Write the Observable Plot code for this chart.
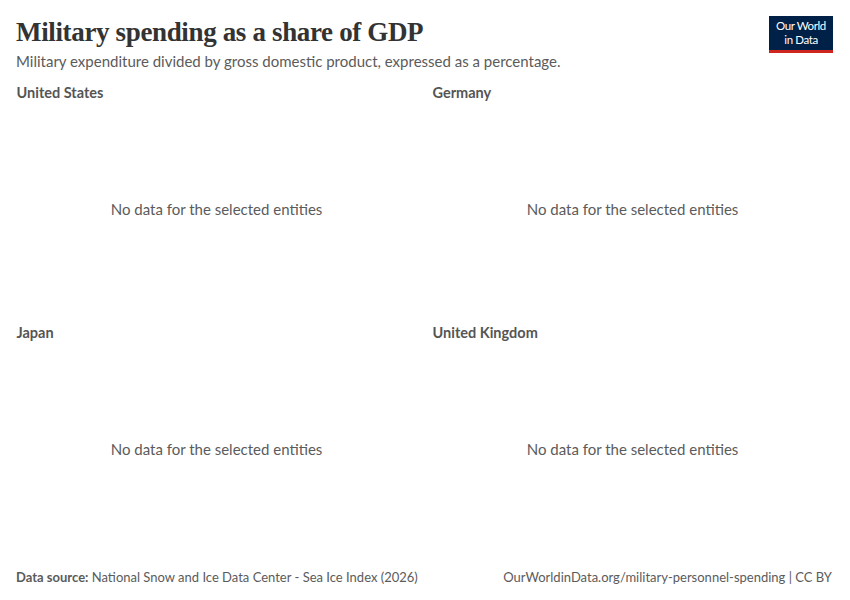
<!DOCTYPE html>
<html>
<head>
<meta charset="utf-8">
<script src="https://cdn.jsdelivr.net/npm/d3@7"></script>
<script src="https://cdn.jsdelivr.net/npm/@observablehq/plot@0.6"></script>
<style>
  html, body { margin: 0; padding: 0; background: #fff; }
  body { width: 850px; height: 600px; position: relative; font-family: Lato, "Noto Sans", sans-serif; overflow: hidden; }
  #title { position: absolute; left: 16px; top: 17px; font-family: "Liberation Serif", "DejaVu Serif", serif; font-weight: 700; font-size: 27px; color: #333; letter-spacing: -0.35px; white-space: nowrap; }
  #subtitle { position: absolute; left: 16px; top: 52px; font-size: 15px; color: #5b5b5b; white-space: nowrap; }
  #logo { position: absolute; left: 769px; top: 16px; width: 64px; height: 34px; background: #002147; border-bottom: 3px solid #ce261e; color: #fff; font-size: 11.5px; line-height: 14px; text-align: center; display: flex; flex-direction: column; justify-content: center; letter-spacing: -0.4px; }
  #chart { position: absolute; left: 0; top: 80px; }
  #source { position: absolute; left: 16px; top: 569px; font-size: 13px; color: #5b5b5b; white-space: nowrap; }
  #source b { font-weight: 700; }
  #url { position: absolute; right: 18px; top: 569px; font-size: 13px; color: #5b5b5b; white-space: nowrap; }
</style>
</head>
<body>
<div id="title">Military spending as a share of GDP</div>
<div id="subtitle">Military expenditure divided by gross domestic product, expressed as a percentage.</div>
<div id="logo"><div>Our World</div><div>in Data</div></div>
<div id="chart"></div>
<div id="source"><b>Data source:</b> National Snow and Ice Data Center - Sea Ice Index (2026)</div>
<div id="url">OurWorldinData.org/military-personnel-spending | CC BY</div>
<script>
const entities = ["United States", "Germany", "Japan", "United Kingdom"];
const columns = [0, 1, 0, 1];
const rows = [0, 0, 1, 1];
const message = "No data for the selected entities";

const panels = entities.map((e, i) => ({entity: e, col: columns[i], row: rows[i], message}));

const chart = Plot.plot({
  width: 850,
  height: 480,
  marginLeft: 16,
  marginRight: 18,
  marginTop: 0,
  marginBottom: 0,
  style: {fontFamily: "Lato, 'Noto Sans', sans-serif", color: "#5b5b5b", background: "transparent"},
  fx: {axis: null, domain: [0, 1], paddingInner: 16 / 416, paddingOuter: 0},
  fy: {axis: null, domain: [0, 1], padding: 0},
  x: {axis: null},
  y: {axis: null},
  marks: [
    Plot.text(panels, {
      fx: "col", fy: "row", text: "entity",
      frameAnchor: "top-left", lineAnchor: "top", dy: 7,
      fontSize: 14.5, fontWeight: 700, fill: "#555"
    }),
    Plot.text(panels, {
      fx: "col", fy: "row", text: "message",
      frameAnchor: "middle", dy: 10,
      fontSize: 15, fill: "#5b5b5b"
    })
  ]
});
document.getElementById("chart").appendChild(chart);
</script>
</body>
</html>
